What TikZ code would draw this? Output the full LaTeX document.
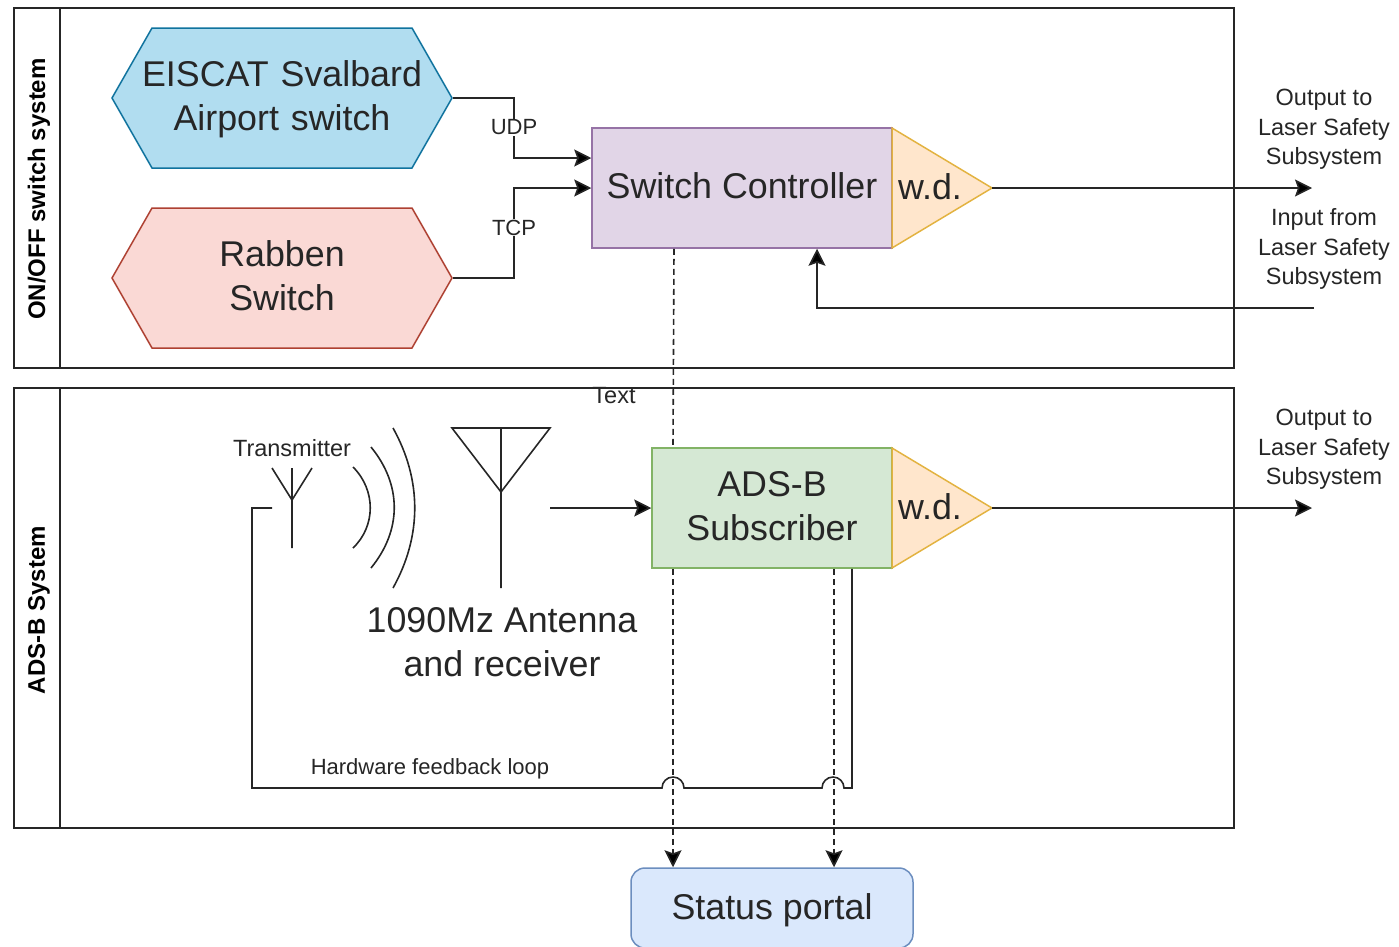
\documentclass[tikz,border=0pt]{standalone}
\usepackage{fontspec}
\setmainfont{Liberation Sans}
\usetikzlibrary{arrows.meta,shapes.symbols}
\definecolor{inkcol}{HTML}{262626}
\definecolor{hexablue}{HTML}{B1DDF0}
\definecolor{hexabluedraw}{HTML}{10739E}
\definecolor{hexared}{HTML}{FAD9D5}
\definecolor{hexareddraw}{HTML}{AE4132}
\definecolor{ctrlfill}{HTML}{E1D5E7}
\definecolor{ctrldraw}{HTML}{9673A6}
\definecolor{subfill}{HTML}{D5E8D4}
\definecolor{subdraw}{HTML}{82B366}
\definecolor{portalfill}{HTML}{DAE8FC}
\definecolor{portaldraw}{HTML}{6C8EBF}
\definecolor{wdfill}{HTML}{FFE6CC}
\definecolor{wddraw}{HTML}{E3B341}
\begin{document}
\begin{tikzpicture}[x=1pt,y=-1pt]

    \tikzset{
      big/.style={font=\fontsize{35.8}{44}\selectfont,text=inkcol,align=center},
      small/.style={font=\fontsize{23.5}{29.5}\selectfont,text=inkcol,align=center},
      tiny/.style={font=\fontsize{22}{28}\selectfont,text=inkcol},
      line/.style={draw=inkcol,line width=1.6pt},
      flow/.style={line,-{Stealth[length=17pt,width=17pt,inset=3pt,fill=black]}},
      status/.style={flow,dashed,dash pattern=on 6pt off 4pt},
      lane/.style={line,minimum width=1220pt,anchor=north west,inner sep=0pt,outer sep=0pt},
      lanetitle/.style={font=\fontsize{24}{30}\bfseries\selectfont,rotate=90,text=black},
      hexa/.style={signal,signal to=west and east,signal pointer angle=120.5,draw,line width=1.5pt,
        minimum width=340pt,minimum height=140pt,inner sep=0pt,text width=200pt,big},
      block/.style={draw,line width=1.5pt,inner sep=0pt,big},
      wdtri/.style={draw=wddraw,fill=wdfill,line width=1.5pt},
    }
    \useasboundingbox (0,0) rectangle (1399,946);

    \node[small] (textlabel) at (614,396) {Text};
    \node[lane,minimum height=360pt] (onoff) at (14,8) {};
    \node[lane,minimum height=440pt] (adsb) at (14,388) {};
    \draw[line] ([xshift=46pt]onoff.north west) -- ([xshift=46pt]onoff.south west);
    \draw[line] ([xshift=46pt]adsb.north west) -- ([xshift=46pt]adsb.south west);
    \node[lanetitle] (onofftitle) at (39,189) {ON/OFF switch system};
    \node[lanetitle] (adsbtitle) at (39,610) {ADS-B System};

    \node[hexa,draw=hexabluedraw,fill=hexablue,text depth=49.6pt] (eiscat) at (282,98) {\makebox[200pt]{EISCAT Svalbard}\\\makebox[200pt]{Airport switch}};
    \node[hexa,draw=hexareddraw,fill=hexared,text depth=48pt] (rabben) at (282,278) {Rabben\\Switch};
    \node[block,draw=ctrldraw,fill=ctrlfill,minimum width=300pt,minimum height=120pt,text depth=4pt] (ctrl) at (742,188) {Switch Controller};
    \node[block,draw=subdraw,fill=subfill,minimum width=240pt,minimum height=120pt,text depth=4pt] (subscriber) at (772,508) {ADS-B\\Subscriber};
    \node[block,draw=portaldraw,fill=portalfill,rounded corners=14pt,minimum width=282pt,minimum height=80pt,text height=30pt] (portal) at (772,908) {Status portal};

    \draw[wdtri] (892,128) -- (992,188) -- (892,248) -- cycle;
    \draw[wdtri] (892,448) -- (992,508) -- (892,568) -- cycle;
    \coordinate (wdtop) at (992,188);
    \coordinate (wdlow) at (992,508);
    \node[big] (wdtoptext) at (930,187) {w.d.};
    \node[big] (wdlowtext) at (930,507) {w.d.};

    \coordinate (outtop) at (1312,188);
    \coordinate (outlow) at (1312,508);
    \coordinate (intop) at (1314,308);
    \node[small] (outtoplabel) at (1324,129.5) {Output to\\Laser Safety\\Subsystem};
    \node[small] (intoplabel) at (1324,249) {Input from\\Laser Safety\\Subsystem};
    \node[small] (outlowlabel) at (1324,449.5) {Output to\\Laser Safety\\Subsystem};

    \draw[flow] (eiscat.east) -- (514,98) |- ([yshift=30pt]ctrl.west);
    \draw[flow] (rabben.east) -- (514,278) |- (ctrl.west);
    \node[tiny,fill=white,inner sep=1pt] (udp) at (514,127.5) {UDP};
    \node[tiny,fill=white,inner sep=1pt] (tcp) at (514,227.5) {TCP};
    \draw[flow] (wdtop) -- (outtop);
    \draw[flow] (wdlow) -- (outlow);
    \draw[flow] (intop) -| ([xshift=75pt]ctrl.south);

    % antennas and waves
    \node[small] (transmitter) at (292,448) {Transmitter};
    \draw[line] (272,468) -- (292,500) -- (312,468) (292,468) -- (292,548);
    \draw[line] (353,467) .. controls (376,490) and (376,526) .. (353,548);
    \draw[line] (371,447) .. controls (402,485) and (402,530) .. (371,568);
    \draw[line] (393,428) .. controls (422,480) and (422,536) .. (393,588);
    \draw[line] (452,428) -- (550,428) -- (501,492) -- cycle (501,428) -- (501,588);
    \node[big] (receiver) at (502,642) {1090Mz Antenna\\and receiver};
    \coordinate (rxout) at (550,508);
    \draw[flow] (rxout) -- (subscriber.west);

    \coordinate (txin) at (272,508);
    \draw[line] ([xshift=80pt]subscriber.south) -- (852,788) -- (844,788)
      arc[start angle=0,end angle=180,radius=11pt] -- (684,788)
      arc[start angle=0,end angle=180,radius=11pt] -- (252,788) -- (252,508) -- (txin);
    \node[tiny] (looplabel) at (430,769) {Hardware feedback loop};

    \draw[status,-] ([xshift=-68pt]ctrl.south) -- ([xshift=-99pt]subscriber.north);
    \draw[status] ([xshift=-99pt]subscriber.south) -- ([xshift=-99pt]portal.north);
    \draw[status] ([xshift=62pt]subscriber.south) -- ([xshift=62pt]portal.north);

\end{tikzpicture}
\end{document}
